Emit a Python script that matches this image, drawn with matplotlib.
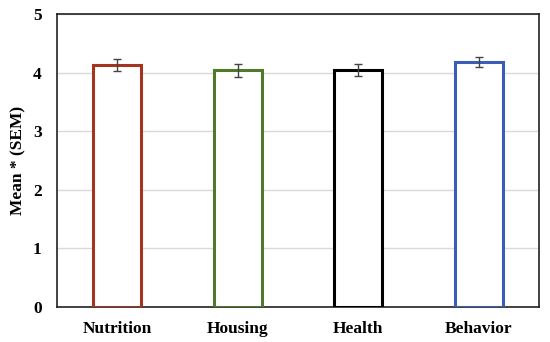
import matplotlib
matplotlib.use("Agg")
import matplotlib.pyplot as plt
import numpy as np

categories = ["Nutrition", "Housing", "Health", "Behavior"]
means = [4.13, 4.04, 4.04, 4.18]
sem = [0.10, 0.11, 0.10, 0.09]
edge_colors = ["#a3341e", "#4e7a2a", "#000000", "#3b5db5"]

plt.rcParams['font.family'] = ['Liberation Serif', 'DejaVu Serif']

fig = plt.figure(figsize=(5.5, 3.42), dpi=100)
ax = fig.add_axes([57/550, 1 - 307/342, 482/550, 293/342])

x = np.arange(len(categories))
ax.bar(x, means, width=0.4, color="white", edgecolor=edge_colors, linewidth=2.2, zorder=3)
ax.errorbar(x, means, yerr=sem, fmt="none", ecolor="#444444", elinewidth=1,
            capsize=3, capthick=1, zorder=4)

ax.set_xlim(-0.5, len(categories) - 0.5)
ax.set_ylim(0, 5)
ax.set_yticks(range(6))
ax.yaxis.grid(True, color="#d9d9d9", linewidth=1, zorder=0)
ax.set_axisbelow(True)
ax.set_xticks(x)
ax.set_xticklabels(categories, fontsize=12.5, fontweight="bold")
for lab in ax.get_yticklabels():
    lab.set_fontsize(12.5)
    lab.set_fontweight("bold")
ax.tick_params(axis="x", length=0, pad=10)
ax.tick_params(axis="y", length=0, pad=11)
ax.set_ylabel("Mean * (SEM)", fontsize=12.5, fontweight="bold", labelpad=5)
for s in ax.spines.values():
    s.set_color("#222222")
    s.set_linewidth(1.2)

fig.savefig("out.png", dpi=100)
